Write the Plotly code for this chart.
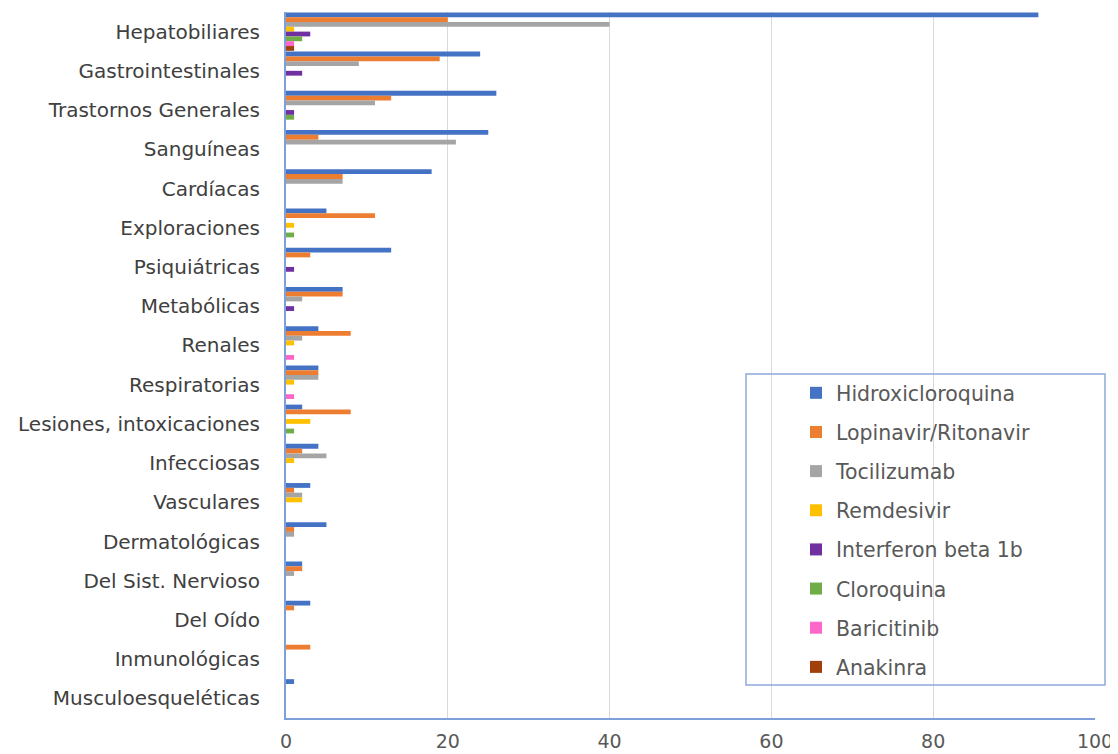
import plotly.graph_objects as go

categories = ["Hepatobiliares", "Gastrointestinales", "Trastornos Generales", "Sanguíneas",
              "Cardíacas", "Exploraciones", "Psiquiátricas", "Metabólicas", "Renales",
              "Respiratorias", "Lesiones, intoxicaciones", "Infecciosas", "Vasculares",
              "Dermatológicas", "Del Sist. Nervioso", "Del Oído", "Inmunológicas",
              "Musculoesqueléticas"]

hidroxicloroquina = [93, 24, 26, 25, 18, 5, 13, 7, 4, 4, 2, 4, 3, 5, 2, 3, 0, 1]
lopinavir_ritonavir = [20, 19, 13, 4, 7, 11, 3, 7, 8, 4, 8, 2, 1, 1, 2, 1, 3, 0]
tocilizumab = [40, 9, 11, 21, 7, 0, 0, 2, 2, 4, 0, 5, 2, 1, 1, 0, 0, 0]
remdesivir = [1, 0, 0, 0, 0, 1, 0, 0, 1, 1, 3, 1, 2, 0, 0, 0, 0, 0]
interferon = [3, 2, 1, 0, 0, 0, 1, 1, 0, 0, 0, 0, 0, 0, 0, 0, 0, 0]
cloroquina = [2, 0, 1, 0, 0, 1, 0, 0, 0, 0, 1, 0, 0, 0, 0, 0, 0, 0]
baricitinib = [1, 0, 0, 0, 0, 0, 0, 0, 1, 1, 0, 0, 0, 0, 0, 0, 0, 0]
anakinra = [1, 0, 0, 0, 0, 0, 0, 0, 0, 0, 0, 0, 0, 0, 0, 0, 0, 0]

series_names = ["Hidroxicloroquina", "Lopinavir/Ritonavir", "Tocilizumab", "Remdesivir",
                "Interferon beta 1b", "Cloroquina", "Baricitinib", "Anakinra"]
series_values = [hidroxicloroquina, lopinavir_ritonavir, tocilizumab, remdesivir,
                 interferon, cloroquina, baricitinib, anakinra]
colors = ["#4472C4", "#ED7D31", "#A5A5A5", "#FFC000", "#7030A0", "#70AD47", "#FF66CC", "#A0410D"]

x_ticks = [0, 20, 40, 60, 80, 100]

FONT = "DejaVu Sans"
TXT = "#595959"

fig = go.Figure()
for name, vals, c in zip(series_names, series_values, colors):
    fig.add_trace(go.Bar(
        y=categories, x=vals, name=name, orientation="h",
        marker=dict(color=c, line=dict(width=0)),
        legendgroup=name,
    ))

# page body has an 8px margin; work in page pixels and subtract it
OFF = 8
W, H = 1118 - OFF, 754 - OFF
x0p, x1p = 286 - OFF, 1095 - OFF     # plot area left/right in figure pixels
y0p, y1p = 12 - OFF, 718 - OFF       # plot area top/bottom in figure pixels
L, R, T, B = x0p, W - x1p, y0p, H - y1p
pw = x1p - x0p
ph = y1p - y0p


def px(x):
    return (x - OFF - x0p) / pw


def py(y):
    return (y1p - (y - OFF)) / ph


fig.update_layout(
    width=W, height=H,
    margin=dict(l=L, r=R, t=T, b=B, pad=0),
    paper_bgcolor="white", plot_bgcolor="white",
    barmode="group", bargap=0.02, bargroupgap=0,
    font=dict(family=FONT, color=TXT, size=20),
    showlegend=True,
    legend=dict(
        x=px(796), y=py(373), xanchor="left", yanchor="top",
        bgcolor="rgba(0,0,0,0)", borderwidth=0,
        font=dict(family=FONT, size=20.5, color=TXT),
        tracegroupgap=9.5, traceorder="grouped",
    ),
    xaxis=dict(
        range=[0, 100], tickvals=x_ticks, showgrid=True, gridcolor="#D9D9D9", gridwidth=1,
        zeroline=False, showline=True, linecolor="#7F9FD8", linewidth=2,
        tickfont=dict(family=FONT, size=19, color=TXT), ticks="", ticklabelstandoff=5,
        fixedrange=True, automargin=False,
    ),
    yaxis=dict(
        autorange="reversed", showgrid=False, zeroline=False, showline=True,
        linecolor="#7F9FD8", linewidth=2, ticks="", ticklabelstandoff=20,
        tickfont=dict(family=FONT, size=20, color="#404040"), automargin=False,
    ),
    shapes=[dict(
        type="rect", xref="paper", yref="paper",
        x0=px(746), x1=px(1105),
        y0=py(685), y1=py(374),
        line=dict(color="#8EA9DB", width=1.5), fillcolor="rgba(0,0,0,0)", layer="above",
    )],
)

fig.write_html("out.html")
